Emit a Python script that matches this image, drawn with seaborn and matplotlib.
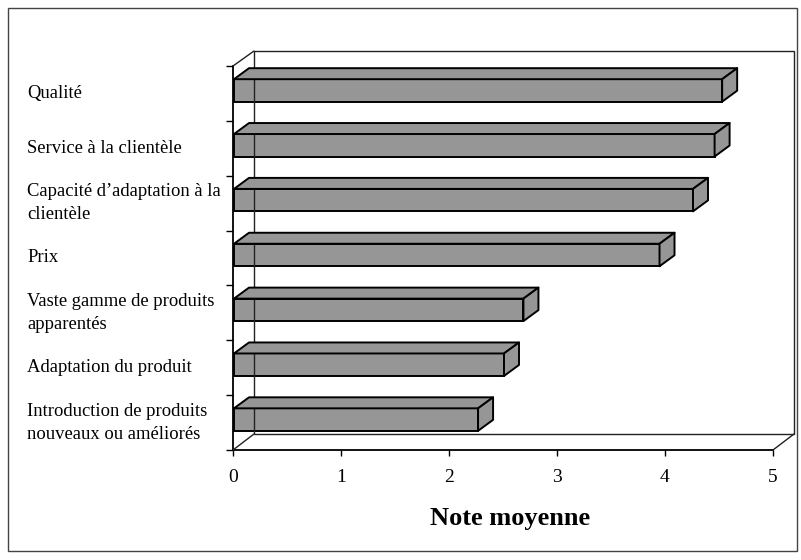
import matplotlib
matplotlib.use("Agg")
import matplotlib.pyplot as plt
import matplotlib.transforms as mtransforms
from matplotlib.patches import Polygon, Rectangle
from matplotlib.lines import Line2D
import seaborn as sns
import pandas as pd

# Average scores per competitive factor
categories = [
    "Qualité",
    "Service à la clientèle",
    "Capacité d’adaptation à la\nclientèle",
    "Prix",
    "Vaste gamme de produits\napparentés",
    "Adaptation du produit",
    "Introduction de produits\nnouveaux ou améliorés",
]
scores = [4.52, 4.45, 4.25, 3.94, 2.68, 2.50, 2.26]
x_ticks = [0, 1, 2, 3, 4, 5]
x_label = "Note moyenne"

sns.set_style("white")
plt.rcParams["font.family"] = ["Liberation Serif", "DejaVu Serif"]
plt.rcParams["text.color"] = "black"
plt.rcParams["xtick.color"] = "black"
plt.rcParams["ytick.color"] = "black"

W, H, DPI = 801, 560, 100
fig = plt.figure(figsize=(W / DPI, H / DPI), dpi=DPI)
fig.patch.set_facecolor("white")

# Front plane of the 3-D box, in pixels
left, right, top, bottom = 233, 773, 66, 450
ax = fig.add_axes([left / W, (H - bottom) / H, (right - left) / W, (bottom - top) / H])
ax.set_facecolor("none")

df = pd.DataFrame({"factor": categories, "score": scores})
sns.barplot(data=df, x="score", y="factor", orient="h", ax=ax,
            color="#969696", saturation=1, width=0.41,
            edgecolor="black", linewidth=1.4, zorder=3)

ax.set_xlim(x_ticks[0], x_ticks[-1])
ax.set_ylim(len(categories) - 0.5, -0.5)

# Depth offsets (display pixels: x right, y up)
wall_dx, wall_dy = 21, 16
front_dx, front_dy = 1, 3
bar_dx, bar_dy = 15, 11

ident = mtransforms.IdentityTransform()
to_px = lambda x, y: (x, H - y)

# Back wall, floor and left wall outlines
wall_col = "#222222"
wall_lw = 1.0
back = Rectangle(to_px(left + wall_dx, bottom - wall_dy), right - left,
                 bottom - top - 1, transform=ident, fill=False,
                 edgecolor=wall_col, lw=wall_lw, zorder=1, clip_on=False)
fig.add_artist(back)
for (x0, y0), (x1, y1) in [
    ((left, bottom), (left + wall_dx, bottom - wall_dy)),
    ((right, bottom), (right + wall_dx, bottom - wall_dy)),
    ((left, top), (left + wall_dx, top - wall_dy + 1)),
]:
    p0, p1 = to_px(x0, y0), to_px(x1, y1)
    fig.add_artist(Line2D([p0[0], p1[0]], [p0[1], p1[1]], transform=ident,
                          color=wall_col, lw=wall_lw, zorder=1))

# Extrude each bar: shift front face, add top and end faces
fig.canvas.draw()
shift = ax.transData + mtransforms.Affine2D().translate(front_dx, front_dy)
for patch in ax.patches:
    patch.set_transform(shift)
    x0, y0 = patch.get_x(), patch.get_y()
    w, h = patch.get_width(), patch.get_height()
    (ax0, ay_top), = shift.transform([(x0, y0)])
    (bx1, by_bot), = shift.transform([(x0 + w, y0 + h)])
    # in display coords y0 (smaller data y) is the upper edge
    top_face = [(ax0, ay_top), (bx1, ay_top),
                (bx1 + bar_dx, ay_top + bar_dy), (ax0 + bar_dx, ay_top + bar_dy)]
    end_face = [(bx1, ay_top), (bx1, by_bot),
                (bx1 + bar_dx, by_bot + bar_dy), (bx1 + bar_dx, ay_top + bar_dy)]
    for verts in (top_face, end_face):
        fig.add_artist(Polygon(verts, closed=True, transform=ident,
                               facecolor="#969696", edgecolor="black",
                               lw=1.4, joinstyle="round", zorder=4))

# Front axes
for side in ("top", "right"):
    ax.spines[side].set_visible(False)
for side in ("left", "bottom"):
    ax.spines[side].set_visible(True)
    ax.spines[side].set_color("black")
    ax.spines[side].set_linewidth(1.3)
    ax.spines[side].set_zorder(2)

ax.set_xticks(x_ticks)
ax.set_xticklabels([str(t) for t in x_ticks], fontsize=14)
ax.tick_params(axis="x", direction="out", length=4, width=1, color="black",
               pad=10, bottom=True, labelcolor="black")
ax.set_yticks([i - 0.5 for i in range(len(categories) + 1)])
ax.set_yticklabels([])
ax.tick_params(axis="y", direction="out", length=5, width=1, color="black", left=True)
ax.set_xlabel("")
ax.set_ylabel("")
ax.grid(False)

label_tr = mtransforms.blended_transform_factory(fig.transFigure, ax.transData)
for i, name in enumerate(categories):
    ax.text(27 / W, i, name, transform=label_tr, ha="left", va="center",
            fontsize=13.4, linespacing=1.46, color="black")

fig.text(510 / W, 1 - 518 / H, x_label, ha="center", va="center",
         fontsize=19, fontweight="bold", color="black")

# Chart frame
fig.add_artist(Rectangle((8 / W, 1 - 551 / H), 789 / W, 543 / H,
                         transform=fig.transFigure, fill=False,
                         edgecolor="#444444", lw=1.0))

fig.savefig("out.png", dpi=DPI, facecolor="white")
